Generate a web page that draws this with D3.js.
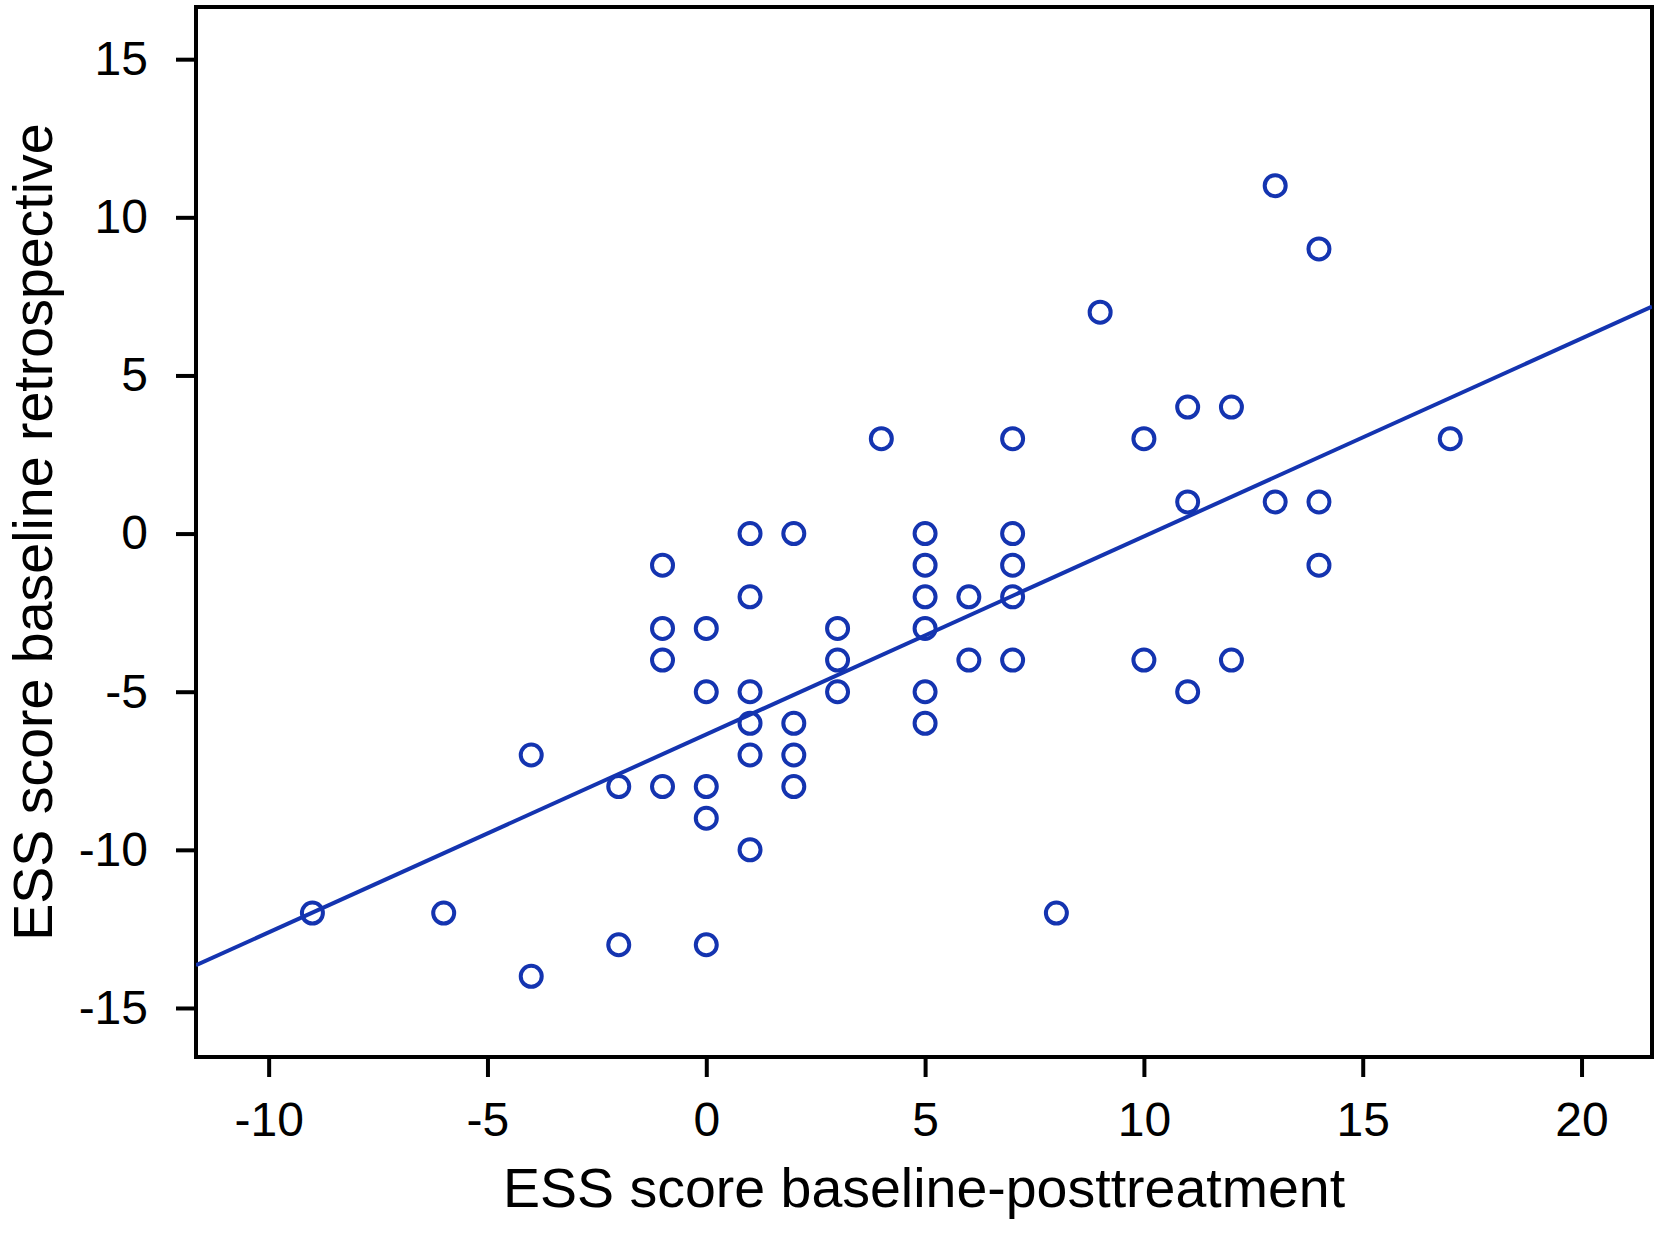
<!DOCTYPE html>
<html>
<head>
<meta charset="utf-8">
<script src="https://cdn.jsdelivr.net/npm/d3@7/dist/d3.min.js"></script>
<style>
  html, body { margin: 0; padding: 0; background: #fff; }
  text { font-family: "Liberation Sans", Arial, Helvetica, sans-serif; fill: #000; }
</style>
</head>
<body>
<svg id="chart" width="1660" height="1236"></svg>
<script>
// Data
const xValues = [-9, -6, -4, -4, -2, -2, -1, -1, -1, -1,
  0, 0, 0, 0, 0, 1, 1, 1, 1, 1, 1, 2, 2, 2, 2, 3, 3, 3, 4,
  5, 5, 5, 5, 5, 5, 6, 6, 7, 7, 7, 7, 7, 8, 9, 10, 10,
  11, 11, 11, 12, 12, 13, 13, 14, 14, 14, 17];
const yValues = [-12, -12, -14, -7, -8, -13, -1, -3, -4, -8,
  -3, -5, -8, -9, -13, 0, -2, -5, -6, -7, -10, 0, -6, -7, -8, -3, -4, -5, 3,
  0, -1, -2, -3, -5, -6, -2, -4, 3, 0, -1, -2, -4, -12, 7, 3, -4,
  4, 1, -5, 4, -4, 11, 1, 9, 1, -1, 3];
const xTicks = [-10, -5, 0, 5, 10, 15, 20];
const yTicks = [-15, -10, -5, 0, 5, 10, 15];
const fitLine = { intercept: -6.35, slope: 0.626 };
const xTitle = "ESS score baseline-posttreatment";
const yTitle = "ESS score baseline retrospective";

const points = xValues.map((x, i) => ({ x: x, y: yValues[i] }));

const svg = d3.select("#chart");
const pLeft = 196, pRight = 1652, pTop = 7, pBottom = 1057;
const blue = "#1434b0";

const x = d3.scaleLinear().domain([-11.66, 21.61]).range([pLeft, pRight]);
const y = d3.scaleLinear().domain([-16.55, 16.65]).range([pBottom, pTop]);

// clip
svg.append("defs").append("clipPath").attr("id", "plotclip")
  .append("rect").attr("x", pLeft).attr("y", pTop)
  .attr("width", pRight - pLeft).attr("height", pBottom - pTop);

// axes
const xAxis = d3.axisBottom(x).tickValues(xTicks).tickSize(20).tickPadding(25)
  .tickFormat(d => String(d));
const yAxis = d3.axisLeft(y).tickValues(yTicks).tickSize(20).tickPadding(28)
  .tickFormat(d => String(d));

const gx = svg.append("g").attr("transform", `translate(0,${pBottom})`).call(xAxis);
const gy = svg.append("g").attr("transform", `translate(${pLeft},0)`).call(yAxis);
[gx, gy].forEach(g => {
  g.select(".domain").remove();
  g.selectAll(".tick line").attr("stroke", "#000").attr("stroke-width", 4);
  g.selectAll(".tick text").attr("font-size", 48).attr("fill", "#000")
    .style("font-family", "'Liberation Sans', Arial, sans-serif");
});
gx.selectAll(".tick text").attr("dy", "0.71em");

// frame
svg.append("rect").attr("x", pLeft).attr("y", pTop)
  .attr("width", pRight - pLeft).attr("height", pBottom - pTop)
  .attr("fill", "none").attr("stroke", "#000").attr("stroke-width", 4);

// fit line
const plot = svg.append("g").attr("clip-path", "url(#plotclip)");
const xd = x.domain();
plot.append("line")
  .attr("x1", x(xd[0])).attr("y1", y(fitLine.intercept + fitLine.slope * xd[0]))
  .attr("x2", x(xd[1])).attr("y2", y(fitLine.intercept + fitLine.slope * xd[1]))
  .attr("stroke", blue).attr("stroke-width", 4);

// points
plot.selectAll("circle.pt").data(points).enter().append("circle")
  .attr("class", "pt")
  .attr("cx", d => x(d.x)).attr("cy", d => y(d.y)).attr("r", 10.5)
  .attr("fill", "none").attr("stroke", blue).attr("stroke-width", 4);

// titles
svg.append("text").attr("x", (pLeft + pRight) / 2).attr("y", 1207)
  .attr("text-anchor", "middle").attr("font-size", 55.5).text(xTitle);
svg.append("text")
  .attr("transform", `translate(52,${(pTop + pBottom) / 2}) rotate(-90)`)
  .attr("text-anchor", "middle").attr("font-size", 55.5).text(yTitle);
</script>
</body>
</html>
